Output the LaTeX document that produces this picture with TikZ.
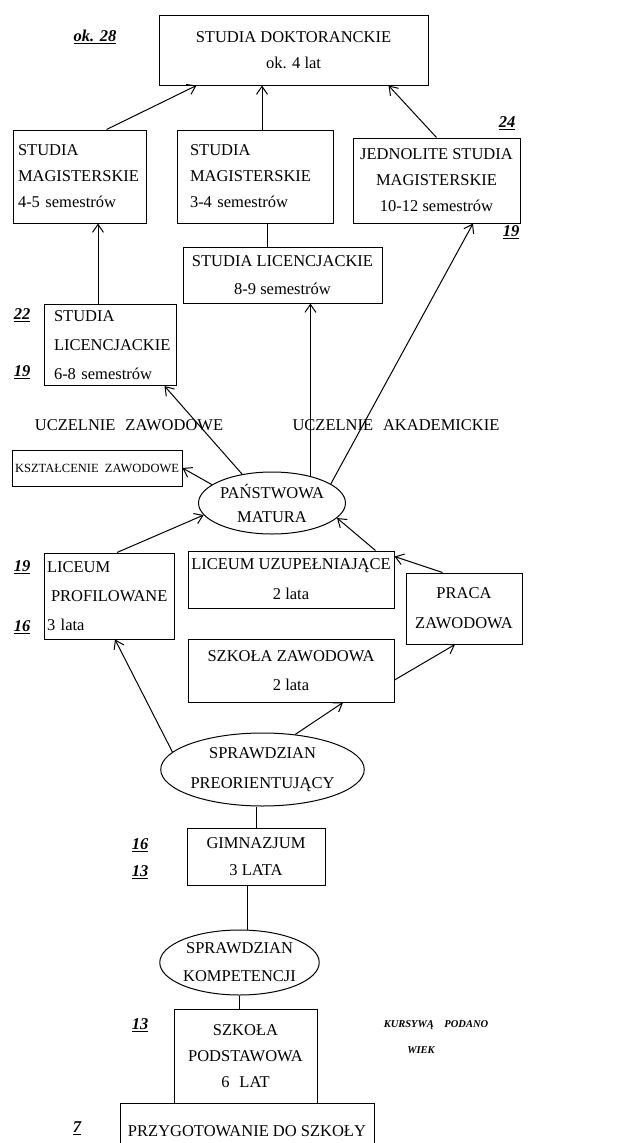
\documentclass[tikz,border=0pt]{standalone}
\usepackage{fontspec}
\setmainfont{Liberation Serif}
\usetikzlibrary{shapes.geometric,calc,arrows.meta}

\tikzset{
  box/.style={draw, line width=1pt, rectangle, inner sep=0pt, align=center,
    font=\fontsize{16.5}{26}\selectfont},
  oval/.style={draw, line width=1pt, ellipse, inner sep=0pt, align=center,
    font=\fontsize{16.5}{26}\selectfont},
  age/.style={font=\fontsize{16.5}{18}\selectfont\bfseries\itshape},
  link/.style={line width=1pt},
  arr/.style={->, line width=1pt},
}

\begin{document}
\begin{tikzpicture}[x=1pt, y=-1pt, >={Straight Barb[length=8pt,width=11pt]}]
        \useasboundingbox (0,0) rectangle (634,1143);
        \clip (0,0) rectangle (634,1143);

        % Draw the university level
        \node[box, minimum width=269pt, minimum height=70pt] (dokt) at (293.5,50)
            {STUDIA DOKTORANCKIE\\ok. 4 lat};
        \node[box, minimum width=133pt, minimum height=93pt, text width=123pt, align=left] (mag1) at (79.5,176.5)
            {STUDIA\\MAGISTERSKIE\\4-5 semestrów};
        \node[box, minimum width=156pt, minimum height=93pt, text width=130pt, align=left] (mag2) at (255,176.5)
            {STUDIA\\MAGISTERSKIE\\3-4 semestrów};
        \node[box, minimum width=167pt, minimum height=85pt] (jedn) at (436.5,180.5)
            {JEDNOLITE STUDIA\\MAGISTERSKIE\\10-12 semestrów};
        \node[box, minimum width=199pt, minimum height=56pt, font=\fontsize{16.5}{28}\selectfont] (lic2) at (282.5,275)
            {STUDIA LICENCJACKIE\\8-9 semestrów};
        \node[box, minimum width=132pt, minimum height=81pt, text width=112pt, align=left,
              font=\fontsize{16.5}{29}\selectfont] (lic1) at (110,345)
            {STUDIA\\LICENCJACKIE\\6-8 semestrów};

        % Draw the labels of the universities
        \node (zaw) at (129,425) {\fontsize{16.5}{18}\selectfont UCZELNIE\hspace{0.6em}ZAWODOWE};
        \node (akad) at (396,425) {\fontsize{16.5}{18}\selectfont UCZELNIE\hspace{0.6em}AKADEMICKIE};
        \node[box, minimum width=170pt, minimum height=36pt, font=\fontsize{12.5}{14}\selectfont] (ksz) at (97,468)
            {KSZTAŁCENIE\hspace{0.5em}ZAWODOWE};

        % Draw the exam after the secondary school
        \node[oval, minimum width=144pt, minimum height=62pt, font=\fontsize{16.5}{24}\selectfont] (matura) at (272,503)
            {PAŃSTWOWA\\MATURA};

        % Draw the secondary schools
        \node[box, minimum width=130pt, minimum height=86pt, text width=124pt, align=left,
              font=\fontsize{16.5}{29}\selectfont] (lp) at (109,596)
            {LICEUM\\\hspace*{4pt}\mbox{PROFILOWANE}\\3 lata};
        \node[box, minimum width=206pt, minimum height=57pt, font=\fontsize{16.5}{30}\selectfont] (lu) at (291,579.5)
            {LICEUM UZUPEŁNIAJĄCE\\2 lata};
        \node[box, minimum width=116pt, minimum height=71pt, font=\fontsize{16.5}{30}\selectfont] (pz) at (464,608.5)
            {PRACA\\ZAWODOWA};
        \node[box, minimum width=206pt, minimum height=63pt, font=\fontsize{16.5}{29}\selectfont] (sz) at (291,670.5)
            {SZKOŁA ZAWODOWA\\2 lata};

        % Draw the lower levels
        \node[oval, minimum width=187pt, minimum height=73pt, font=\fontsize{16.5}{30}\selectfont] (sp) at (262.5,769.5)
            {SPRAWDZIAN\\PREORIENTUJĄCY};
        \node[box, minimum width=138pt, minimum height=57pt, font=\fontsize{16.5}{27}\selectfont] (gim) at (256,856.5)
            {GIMNAZJUM\\3 LATA};
        \node[oval, minimum width=153pt, minimum height=65pt, font=\fontsize{16.5}{28}\selectfont] (sk) at (239.5,962.5)
            {SPRAWDZIAN\\KOMPETENCJI};
        \node[box, minimum width=143pt, minimum height=94pt] (spodst) at (245.5,1056)
            {SZKOŁA\\PODSTAWOWA\\6\hspace{0.6em}LAT\hspace{1.2em}};
        \node[box, minimum width=254pt, minimum height=57pt] (przyg) at (247,1131.5)
            {PRZYGOTOWANIE DO SZKOŁY};

        % Draw the arrows between the levels
        \draw[arr] ($(mag1.north)+(27,0)$) -- ($(dokt.south west)+(38,0)$);
        \draw[arr] ($(mag2.north)+(7,0)$) coordinate (m2t) -- (m2t |- dokt.south);
        \draw[arr] (jedn.north) -- ($(dokt.south east)+(-40,0)$);
        \draw[link] ($(mag2.south)+(12,0)$) coordinate (m2b) -- (m2b |- lic2.north);
        \draw[arr] ($(lic1.north)+(-12,0)$) coordinate (l1t) -- (l1t |- mag1.south);
        \draw[arr] (matura.136) -- ($(lic1.south east)+(-12,0)$);
        \draw[arr] (matura.35) -- (matura.35 |- lic2.south);
        \draw[arr] (matura.18) -- ($(jedn.south)+(36.5,0)$);
        \draw[arr] (matura.163) -- (ksz.east);
        \draw[arr] ($(lp.north)+(8,0)$) -- (matura.190);
        \draw[arr] ($(lu.north east)+(-19,0)$) -- (matura.347);
        \draw[arr] ($(pz.north west)+(37,0)$) -- ($(lu.north east)+(0,6)$);
        \draw[arr] ($(sz.east)+(0,9.5)$) -- ($(pz.south)+(-9,0)$);
        \draw[arr] (sp.47) -- ($(sz.south)+(52,0)$);
        \draw[arr] (sp.169) -- ($(lp.south)+(6,0)$);
        \draw[link] (sp.south -| gim.north) -- (gim.north);
        \draw[link] ($(gim.south)+(-9,0)$) coordinate (gb) -- (gb |- sk.north);
        \draw[link] (sk.south) -- (sk.south |- spodst.north);

        % Draw the ages
        \node[age] (a28) at (95,37) {\underline{ok. 28}};
        \node[age] (a24) at (507,123) {\underline{24}};
        \node[age] (a19a) at (511,232) {\underline{19}};
        \node[age] (a22) at (22,315) {\underline{22}};
        \node[age] (a19b) at (22,372) {\underline{19}};
        \node[age] (a19c) at (22,567) {\underline{19}};
        \node[age] (a16a) at (22,627) {\underline{16}};
        \node[age] (a16b) at (140,845) {\underline{16}};
        \node[age] (a13a) at (140,872) {\underline{13}};
        \node[age] (a13b) at (140,1025) {\underline{13}};
        \node[age] (a7) at (77,1128) {\underline{7}};

        % Draw the note
        \node[font=\fontsize{10.5}{12}\selectfont\bfseries\itshape] (note) at (436,1025) {KURSYWĄ\hspace{1em}PODANO};
        \node[font=\fontsize{10.5}{12}\selectfont\bfseries\itshape] (wiek) at (421,1050) {WIEK};

    \end{tikzpicture}
\end{document}
